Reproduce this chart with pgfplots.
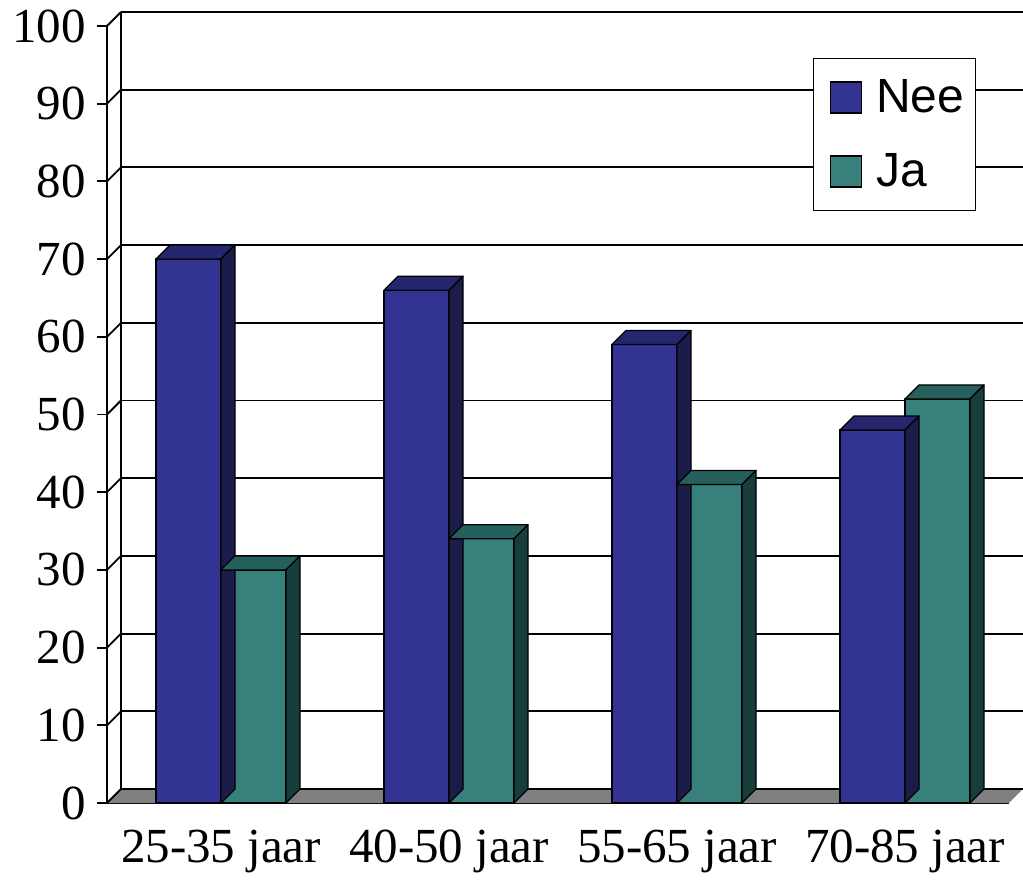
\documentclass[border=0pt]{standalone}
\usepackage{pgfplots}
\pgfplotsset{compat=1.18}
\usepackage{fontspec}
\setmainfont{Liberation Serif}
\newfontfamily\legendfont{Liberation Sans}
\definecolor{neefront}{RGB}{51,51,147}
\definecolor{neetop}{RGB}{38,38,112}
\definecolor{neeside}{RGB}{28,28,74}
\definecolor{jafront}{RGB}{55,128,124}
\definecolor{jatop}{RGB}{38,96,92}
\definecolor{jaside}{RGB}{24,62,60}
\definecolor{floorgray}{RGB}{128,128,128}
\pgfdeclareplotmark{nothing}{}
\pgfplotsset{
  face3d/.style n args={3}{%
    only marks, mark=nothing, forget plot, scatter,
    visualization depends on={rawy \as \barval},
    scatter/@pre marker code/.code={%
      \pgfmathsetmacro\H{\barval*3.885}%
      \filldraw[fill=#2, draw=black, line width=0.6pt, line join=round]
        (#1pt,0pt) -- ++(32.5pt,0pt) -- ++(7pt,7pt) -- ++(-32.5pt,0pt) -- cycle;
      \filldraw[fill=#3, draw=black, line width=0.6pt, line join=round]
        (#1pt+32.5pt,0pt) -- ++(7pt,7pt) -- ++(0pt,-\H pt) -- ++(-7pt,-7pt) -- cycle;
    },
    scatter/@post marker code/.code={},
  },
  sqlegend/.style={legend image code/.code={%
      \path (0pt,0pt);
      \filldraw[##1, draw=black, line width=0.6pt] (2.5pt,-7.75pt) rectangle (18pt,7.75pt);}},
}
\begin{document}
\begin{tikzpicture}
\begin{axis}[
  x=114pt, y=3.885pt,
  xmin=-0.5, xmax=3.456, ymin=0, ymax=100,
  clip=false,
  axis lines=left,
  axis line style={-, black, line width=0.9pt},
  xtick={0,1,2,3},
  xticklabels={25-35 jaar, 40-50 jaar, 55-65 jaar, 70-85 jaar},
  ytick={0,10,...,100},
  major x tick style={draw=none},
  major y tick style={black, line width=0.9pt},
  tick align=outside,
  major tick length=5pt,
  /pgf/number format/assume math mode=true,
  tick label style={font=\fontsize{24.5}{28}\selectfont},
  yticklabel style={xshift=-2pt},
  xticklabel style={yshift=-5pt},
  ymajorgrids,
  major grid style={black, line width=0.9pt, xshift=7pt, yshift=7pt},
  legend style={at={(0.783,0.959)}, anchor=north west, draw=black, line width=0.6pt,
    font=\fontsize{24}{28}\selectfont\legendfont, inner xsep=5.5pt, inner ysep=8.5pt,
    row sep=15pt, column sep=7pt, nodes={inner xsep=0pt}},
  legend cell align=left,
]
% floor
\fill[floorgray] (axis cs:-0.5,0) -- (axis cs:3.456,0) -- ([shift={(7pt,7pt)}]axis cs:3.456,0) -- ([shift={(7pt,7pt)}]axis cs:-0.5,0) -- cycle;
\draw[black, line width=0.9pt] (axis cs:-0.5,0) -- ([shift={(7pt,7pt)}]axis cs:-0.5,0) -- ([shift={(7pt,7pt)}]axis cs:3.456,0);
% back wall left edge and connectors
\draw[black, line width=0.9pt] ([shift={(7pt,7pt)}]axis cs:-0.5,0) -- ([shift={(7pt,7pt)}]axis cs:-0.5,100);
\pgfplotsinvokeforeach{10,20,...,100}{
  \draw[black, line width=0.9pt] (axis cs:-0.5,#1) -- ([shift={(7pt,7pt)}]axis cs:-0.5,#1);
}
% Nee
\addplot[ybar, bar width=32.5pt, bar shift=-16.25pt, fill=neefront, draw=black, line width=0.6pt, sqlegend]
  coordinates {(0,70) (1,66) (2,59) (3,48)};
\addlegendentry{Nee}
\addplot[face3d={-32.5}{neetop}{neeside}]
  coordinates {(0,70) (1,66) (2,59) (3,48)};
% Ja
\addplot[ybar, bar width=32.5pt, bar shift=16.25pt, fill=jafront, draw=black, line width=0.6pt, sqlegend]
  coordinates {(0,30) (1,34) (2,41) (3,52)};
\addlegendentry{Ja}
\addplot[face3d={0}{jatop}{jaside}]
  coordinates {(0,30) (1,34) (2,41) (3,52)};
\end{axis}
\pgfresetboundingbox
\path ([shift={(-53.5pt,-38pt)}]current axis.south west) rectangle ([shift={(458pt,401.5pt)}]current axis.south west);
\end{tikzpicture}
\end{document}
